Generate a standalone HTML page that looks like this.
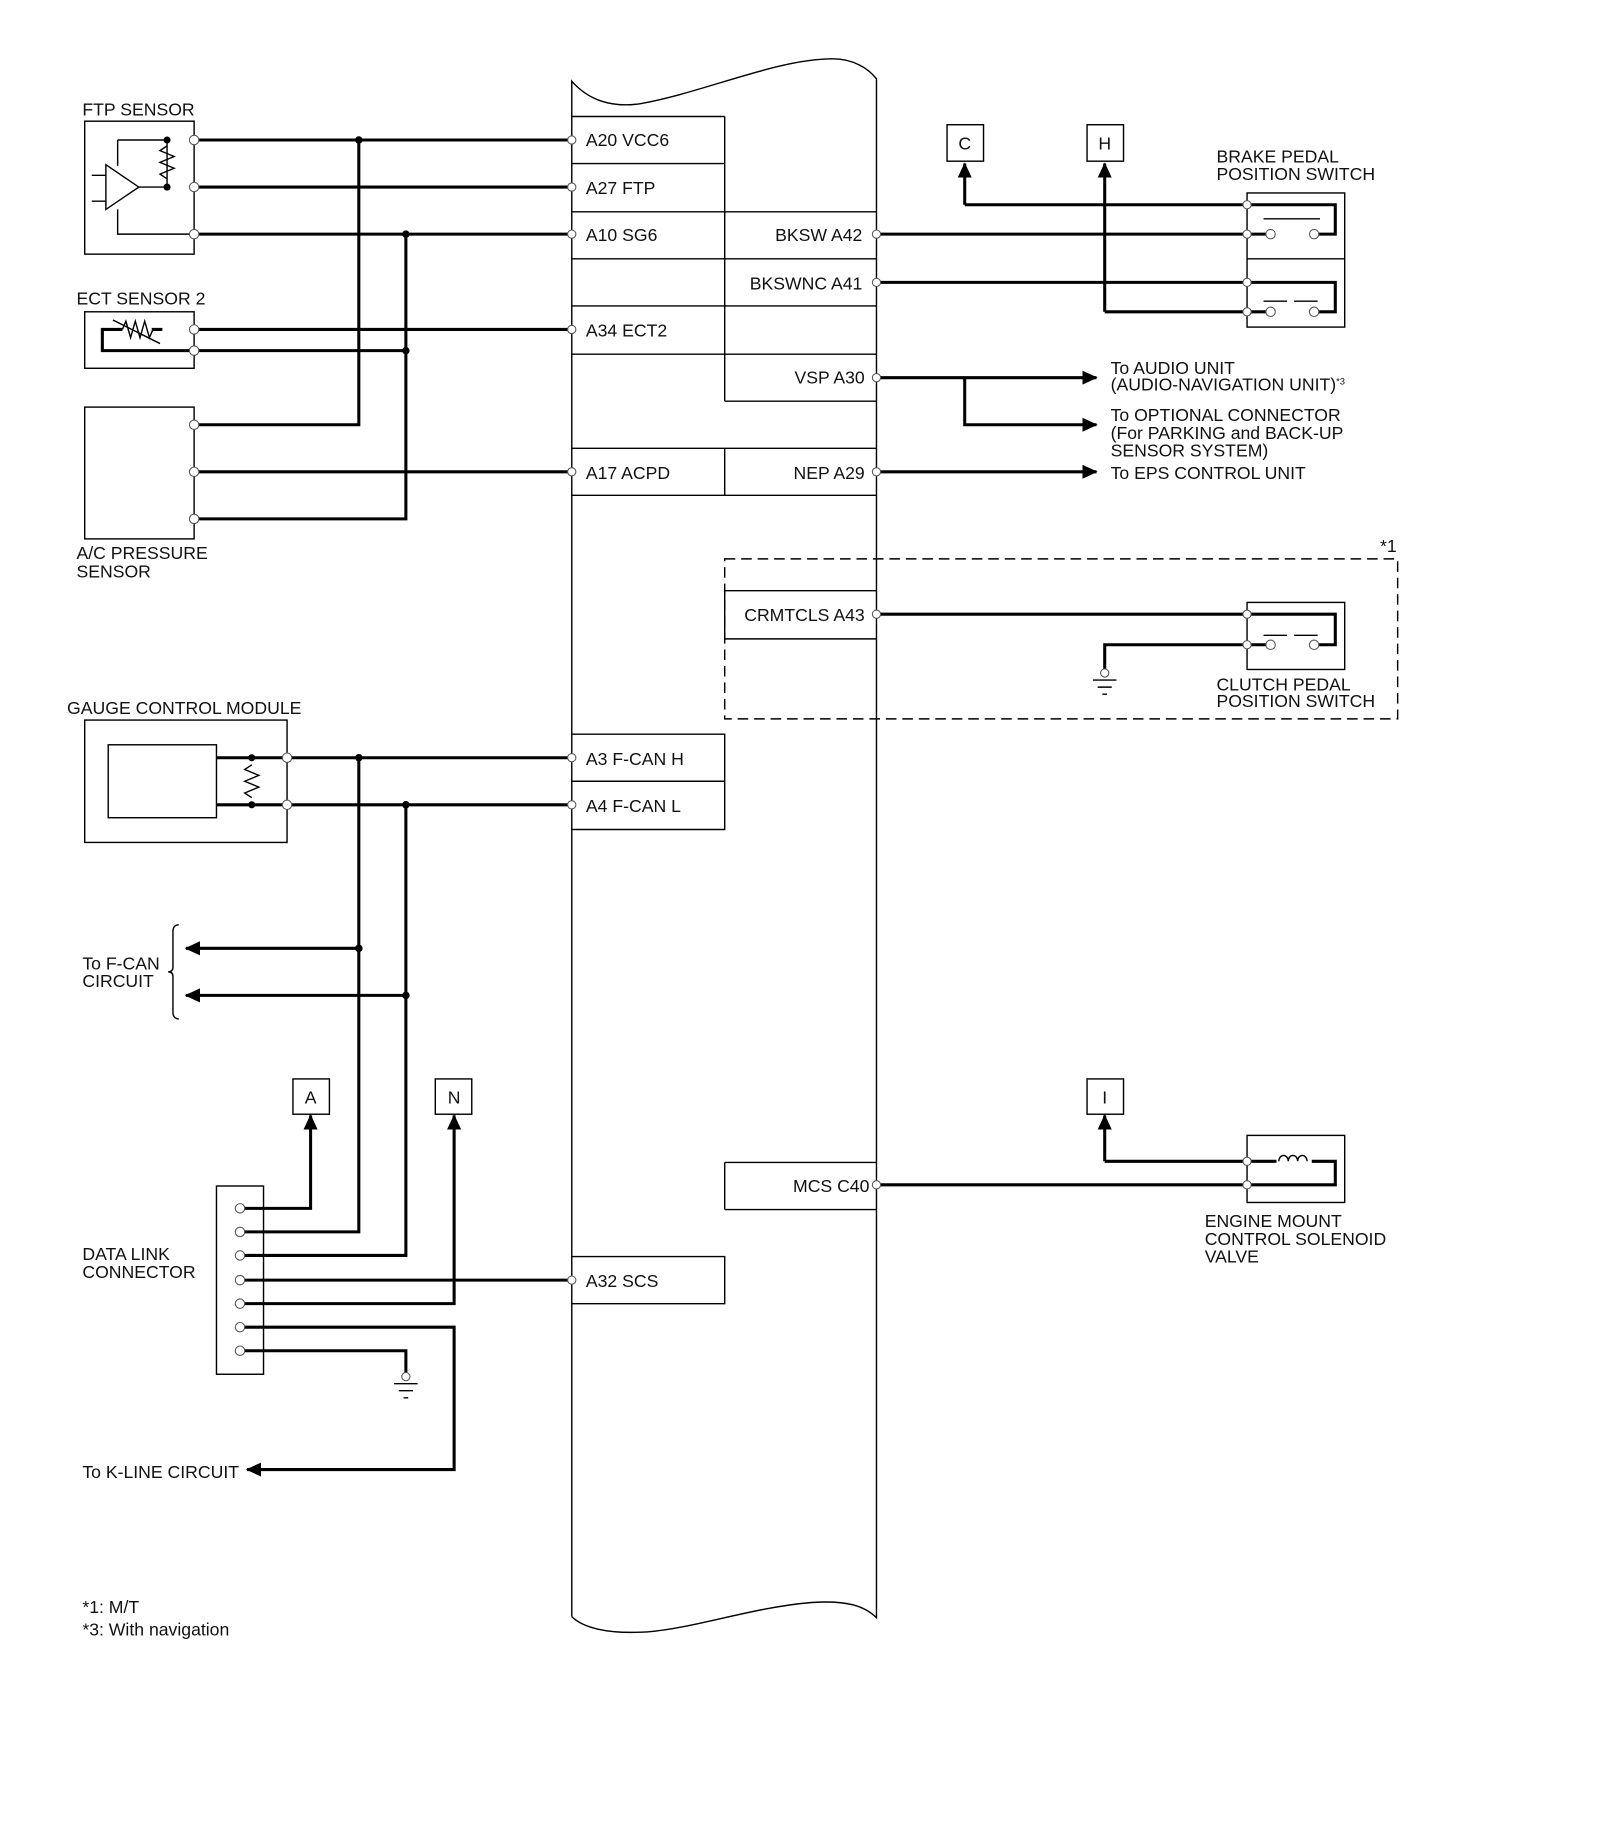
<!DOCTYPE html>
<html><head><meta charset="utf-8"><style>
html,body{margin:0;padding:0;background:#fff}
svg{display:block}
text{font-family:"Liberation Sans",sans-serif;font-size:15px;fill:#111}
.w{stroke:#000;stroke-width:2.6;fill:none}
.t{stroke:#000;stroke-width:1.2;fill:none}
.p{fill:#fff;stroke:#555;stroke-width:0.9}
</style></head><body>
<svg width="1600" height="1839" viewBox="0 0 1360 1563" preserveAspectRatio="none" xmlns="http://www.w3.org/2000/svg">
<defs>
<marker id="ar" markerWidth="14" markerHeight="14" refX="12" refY="6" orient="auto" markerUnits="userSpaceOnUse"><path d="M0,0 L13,6 L0,12z" fill="#000"/></marker>
</defs>
<path class="t" d="M486,1374 L486,69 C500,85 520,92 545,88 C600,78 660,50 708,50 C725,50 738,58 745,67 L745,1375 C735,1365 720,1360 690,1362 C640,1366 590,1384 550,1387 C515,1389 495,1383 486,1374"/>
<path class="t" d="M486,99 H616 M486,139 H616 M486,180 H745 M486,220 H745 M486,260 H745 M486,301 H745 M616,341 H745 M486,381 H745 M486,421 H745 M616,99 V341 M616,381 V421"/>
<path class="t" d="M486,624 H616 V705 H486 M486,664 H616"/>
<path class="t" d="M616,988 H745 M616,1028 H745 M616,988 V1028"/>
<path class="t" d="M486,1068 H616 V1108 H486"/>
<path class="t" d="M616,502 H745 M616,543 H745 M616,502 V543"/>
<rect x="616" y="475" width="572" height="136" fill="none" stroke="#000" stroke-width="1.2" stroke-dasharray="9,5"/>
<text x="1173" y="469" font-size="13">*1</text>
<text x="498" y="124">A20 VCC6</text>
<text x="498" y="165">A27 FTP</text>
<text x="498" y="205">A10 SG6</text>
<text x="498" y="286">A34 ECT2</text>
<text x="498" y="407">A17 ACPD</text>
<text x="498" y="650">A3 F-CAN H</text>
<text x="498" y="690">A4 F-CAN L</text>
<text x="498" y="1094">A32 SCS</text>
<text x="733" y="205" text-anchor="end">BKSW A42</text>
<text x="733" y="246" text-anchor="end">BKSWNC A41</text>
<text x="735" y="326" text-anchor="end">VSP A30</text>
<text x="735" y="407" text-anchor="end">NEP A29</text>
<text x="735" y="528" text-anchor="end">CRMTCLS A43</text>
<text x="739" y="1013" text-anchor="end">MCS C40</text>
<text x="70" y="98">FTP SENSOR</text>
<rect class="t" x="72" y="103" width="93" height="113"/>
<path class="w" d="M165,119 H486 M165,159 H486 M165,199 H486"/>
<path class="t" d="M118,159 H142 M100,119 H142 V159 M100,119 V141 M100,178 V199 H165 M78,149 H90 M78,171 H90"/>
<path class="t" d="M90,140 L118,159 L90,178 Z"/>
<path class="t" d="M142,124 L136,128 L148,133 L136,138 L148,143 L136,148 L142,152" stroke-width="0.8"/>
<circle cx="142" cy="119" r="3" fill="#000"/><circle cx="142" cy="159" r="3" fill="#000"/>
<path class="w" d="M305,119 V361 H165 M345,199 V441 H165"/>
<circle cx="305" cy="119" r="3.2"/><circle cx="345" cy="199" r="3.2"/><circle cx="345" cy="298" r="3.2"/>
<text x="65" y="259">ECT SENSOR 2</text>
<rect class="t" x="72" y="265" width="93" height="48"/>
<path class="w" d="M165,280 H486 M165,298 H345"/>
<path class="w" d="M138,280 H129 M104,280 H87 V298 H165" stroke-width="2"/>
<path class="t" d="M104,280 L107,273 L111,287 L115,273 L119,287 L123,273 L127,287 L130,280" stroke-width="0.8"/>
<path class="t" d="M96,272 L136,292" stroke-width="0.8"/>
<rect class="t" x="72" y="346" width="93" height="112"/>
<path class="w" d="M165,401 H486"/>
<text x="65" y="475">A/C PRESSURE</text><text x="65" y="491">SENSOR</text>
<rect class="t" x="805" y="106" width="31" height="31"/><text x="820" y="127" text-anchor="middle">C</text>
<rect class="t" x="924" y="106" width="31" height="31"/><text x="939" y="127" text-anchor="middle">H</text>
<text x="1034" y="138">BRAKE PEDAL</text><text x="1034" y="153">POSITION SWITCH</text>
<rect class="t" x="1060" y="164" width="83" height="114"/>
<path class="t" d="M1060,220 H1143"/>
<path class="w" d="M745,199 H1060 M745,240 H1060 M820,174 H1060 M939,265 H1060"/>
<path class="w" d="M820,174 V139" marker-end="url(#ar)"/><path class="w" d="M939,265 V139" marker-end="url(#ar)"/>
<path class="w" d="M1060,174 H1135 V199 H1120 M1060,240 H1135 V265 H1120 M1060,199 H1077 M1060,265 H1077" stroke-width="2.2"/>
<path class="t" d="M1074,186 H1122"/><path class="t" d="M1074,256 H1094 M1100,256 H1120" stroke-width="0.8"/>
<path class="w" d="M745,321 H932" marker-end="url(#ar)"/>
<path class="w" d="M820,321 V361 H932" marker-end="url(#ar)"/>
<path class="w" d="M745,401 H932" marker-end="url(#ar)"/>
<text x="944" y="318">To AUDIO UNIT</text>
<text x="944" y="332">(AUDIO-NAVIGATION UNIT)<tspan font-size="8" dy="-5">*3</tspan></text>
<text x="944" y="358">To OPTIONAL CONNECTOR</text>
<text x="944" y="373">(For PARKING and BACK-UP</text>
<text x="944" y="388">SENSOR SYSTEM)</text>
<text x="944" y="407">To EPS CONTROL UNIT</text>
<rect class="t" x="1060" y="512" width="83" height="57"/>
<path class="w" d="M745,522 H1060 M1060,522 H1135 V548 H1120 M1060,548 H1077" stroke-width="2.2"/>
<path class="w" d="M939,572 V548 H1060"/>
<path class="t" d="M1074,540 H1094 M1100,540 H1120" stroke-width="0.8"/>
<path class="t" d="M929,578 H949 M933,584 H945 M937,590 H941"/>
<text x="1034" y="587">CLUTCH PEDAL</text><text x="1034" y="601">POSITION SWITCH</text>
<text x="57" y="607">GAUGE CONTROL MODULE</text>
<rect class="t" x="72" y="612" width="172" height="104"/>
<rect class="t" x="92" y="633" width="92" height="62"/>
<path class="w" d="M184,644 H486 M184,684 H486"/>
<path class="t" d="M214,650 L208,654 L220,659 L208,664 L220,669 L208,674 L214,678" stroke-width="0.8"/>
<circle cx="214" cy="644" r="3" fill="#000"/><circle cx="214" cy="684" r="3" fill="#000"/>
<path class="w" d="M305,644 V1047 H204 M345,684 V1067 H204"/>
<circle cx="305" cy="644" r="3.2"/><circle cx="345" cy="684" r="3.2"/>
<circle cx="305" cy="806" r="3.2"/><circle cx="345" cy="846" r="3.2"/>
<path class="w" d="M305,806 H158" marker-end="url(#ar)"/>
<path class="w" d="M345,846 H158" marker-end="url(#ar)"/>
<path class="t" d="M152,786 Q147,786 147,792 V822 Q147,826 143,826 Q147,826 147,830 V860 Q147,866 152,866" stroke-width="0.7"/>
<text x="70" y="824">To F-CAN</text><text x="70" y="839">CIRCUIT</text>
<rect class="t" x="249" y="917" width="31" height="30"/><text x="264" y="938" text-anchor="middle">A</text>
<rect class="t" x="370" y="917" width="31" height="30"/><text x="386" y="938" text-anchor="middle">N</text>
<rect class="t" x="184" y="1008" width="40" height="160"/>
<path class="w" d="M204,1027 H264 V948" marker-end="url(#ar)"/>
<path class="w" d="M204,1108 H386 V948" marker-end="url(#ar)"/>
<path class="w" d="M204,1088 H486"/>
<path class="w" d="M204,1128 H386 V1249 H210" marker-end="url(#ar)"/>
<path class="w" d="M204,1148 H345 V1170"/>
<path class="t" d="M335,1176 H355 M339,1182 H351 M343,1188 H347"/>
<text x="70" y="1071">DATA LINK</text><text x="70" y="1086">CONNECTOR</text>
<text x="70" y="1256">To K-LINE CIRCUIT</text>
<rect class="t" x="924" y="917" width="31" height="30"/><text x="939" y="938" text-anchor="middle">I</text>
<rect class="t" x="1060" y="965" width="83" height="57"/>
<path class="w" d="M745,1007 H1060 M939,987 H1060"/>
<path class="w" d="M939,987 V948" marker-end="url(#ar)"/>
<path class="w" d="M1060,1007 H1135 V987 H1115 M1060,987 H1085" stroke-width="2.2"/>
<path class="t" d="M1087,987 a4,5 0 1 1 8,0 a4,5 0 1 1 8,0 a4,5 0 1 1 8,0" stroke-width="1"/>
<text x="1024" y="1043">ENGINE MOUNT</text><text x="1024" y="1058">CONTROL SOLENOID</text><text x="1024" y="1073">VALVE</text>
<g class="p">
<circle cx="165" cy="119" r="4"/><circle cx="165" cy="159" r="4"/><circle cx="165" cy="199" r="4"/>
<circle cx="165" cy="280" r="4"/><circle cx="165" cy="298" r="4"/>
<circle cx="165" cy="361" r="4"/><circle cx="165" cy="401" r="4"/><circle cx="165" cy="441" r="4"/>
<circle cx="486" cy="119" r="3.5"/><circle cx="486" cy="159" r="3.5"/><circle cx="486" cy="199" r="3.5"/><circle cx="486" cy="280" r="3.5"/><circle cx="486" cy="401" r="3.5"/>
<circle cx="486" cy="644" r="3.5"/><circle cx="486" cy="684" r="3.5"/><circle cx="486" cy="1088" r="3.5"/>
<circle cx="745" cy="199" r="3.5"/><circle cx="745" cy="240" r="3.5"/><circle cx="745" cy="321" r="3.5"/><circle cx="745" cy="401" r="3.5"/><circle cx="745" cy="522" r="3.5"/><circle cx="745" cy="1007" r="3.5"/>
<circle cx="1060" cy="174" r="3.5"/><circle cx="1060" cy="199" r="3.5"/><circle cx="1060" cy="240" r="3.5"/><circle cx="1060" cy="265" r="3.5"/>
<circle cx="1080" cy="199" r="4"/><circle cx="1117" cy="199" r="4"/><circle cx="1080" cy="265" r="4"/><circle cx="1117" cy="265" r="4"/>
<circle cx="1060" cy="522" r="3.5"/><circle cx="1060" cy="548" r="3.5"/><circle cx="1080" cy="548" r="4"/><circle cx="1117" cy="548" r="4"/>
<circle cx="1060" cy="987" r="3.5"/><circle cx="1060" cy="1007" r="3.5"/>
<circle cx="939" cy="572" r="3.5"/><circle cx="345" cy="1170" r="3.5"/>
<circle cx="244" cy="644" r="4"/><circle cx="244" cy="684" r="4"/>
<circle cx="204" cy="1027" r="4"/><circle cx="204" cy="1047" r="4"/><circle cx="204" cy="1067" r="4"/><circle cx="204" cy="1088" r="4"/><circle cx="204" cy="1108" r="4"/><circle cx="204" cy="1128" r="4"/><circle cx="204" cy="1148" r="4"/>
</g>
<text x="70" y="1371" font-size="17">*1:  M/T</text>
<text x="70" y="1390" font-size="17">*3:  With navigation</text>
</svg>
</body></html>
